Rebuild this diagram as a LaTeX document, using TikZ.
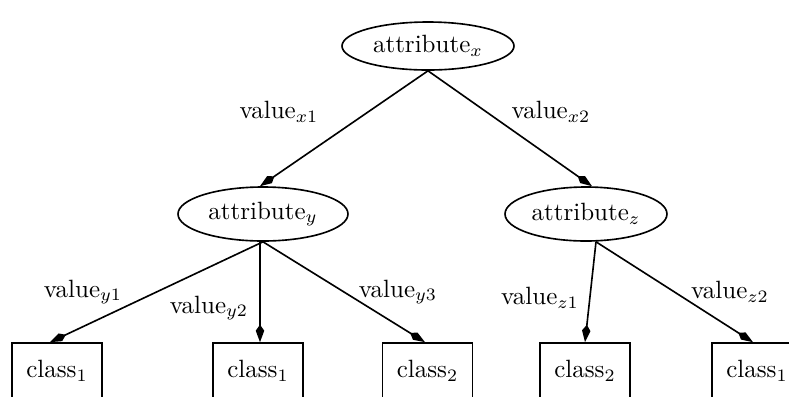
\documentclass[tikz,border=0pt]{standalone}
\usetikzlibrary{arrows.meta,shapes.geometric}
\begin{document}
\begin{tikzpicture}[x=0.4pt,y=-0.4pt,
  attr/.style={ellipse, draw, line width=0.65pt, inner sep=0pt},
  leaf/.style={rectangle, draw, line width=0.65pt, minimum width=36pt,
               minimum height=22.4pt, inner sep=0pt},
  edge/.style={line width=0.65pt, -{Kite[length=7pt,width=3.4pt,inset=2.4pt]}},
  lbl/.style={inner sep=0pt}]
\clip (0,0) rectangle (789,396);

% decision nodes
\node[attr, minimum width=68.8pt, minimum height=19.2pt] (ax) at (428,46) {attribute$_x$};
\node[attr, minimum width=68pt, minimum height=21.6pt] (ay) at (263,214) {attribute$_y$};
\node[attr, minimum width=64.8pt, minimum height=21.6pt] (az) at (586,214) {attribute$_z$};

% leaves (open at the bottom edge)
\node[leaf] (b1) at (57,371)   {class$_1$};
\node[leaf] (b2) at (258,371)  {class$_1$};
\node[leaf] (b3) at (427.5,371) {class$_2$};
\node[leaf] (b4) at (585,371)  {class$_2$};
\node[leaf] (b5) at (757,371)  {class$_1$};

% branch labels
\node[lbl] (lx1) at (279,112) {value$_{x1}$};
\node[lbl] (lx2) at (551,112) {value$_{x2}$};
\node[lbl] (ly1) at (83,292)  {value$_{y1}$};
\node[lbl] (ly2) at (209,308) {value$_{y2}$};
\node[lbl] (ly3) at (398,292) {value$_{y3}$};
\node[lbl] (lz1) at (540,298) {value$_{z1}$};
\node[lbl] (lz2) at (730,292) {value$_{z2}$};

% branches
\draw[edge] (ax.south) -- ([xshift=-1.2pt]ay.north);
\draw[edge] (ax.south) -- ([xshift=2.4pt]az.north);
\draw[edge] (ay.south) -- ([xshift=-2.8pt]b1.north);
\draw[edge] ([xshift=-1.2pt]ay.south) -- ([xshift=0.8pt]b2.north);
\draw[edge] (ay.south) -- ([xshift=-1pt]b3.north);
\draw[edge] ([xshift=4pt]az.south) -- (b4.north);
\draw[edge] ([xshift=4pt]az.south) -- ([xshift=-1.6pt]b5.north);
\end{tikzpicture}
\end{document}
